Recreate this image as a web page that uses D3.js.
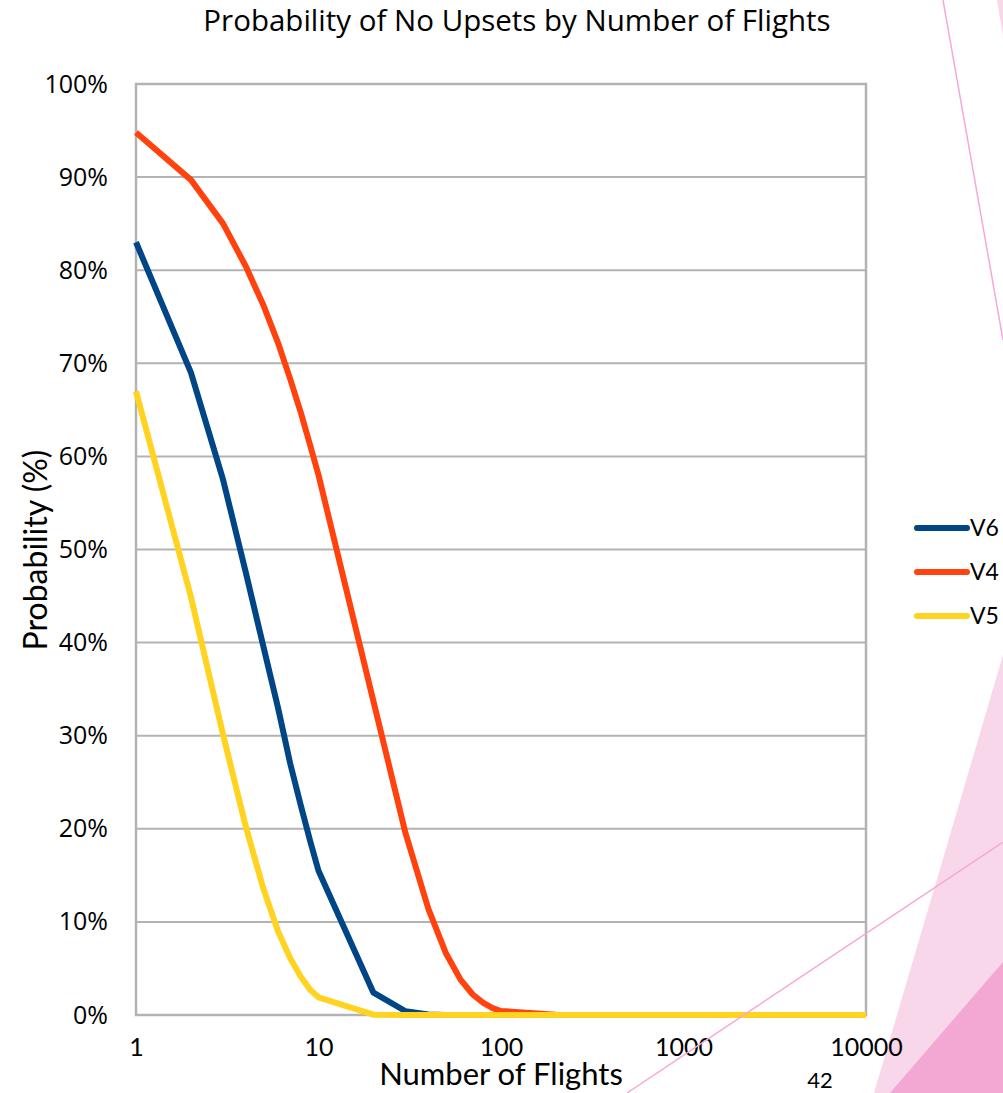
<!DOCTYPE html>
<html>
<head>
<meta charset="utf-8">
<script src="https://cdn.jsdelivr.net/npm/d3@7"></script>
<style>
  html, body { margin: 0; padding: 0; background: #ffffff; }
  svg { display: block; }
</style>
</head>
<body>
<svg id="chart" width="1003" height="1093"></svg>
<script>
// Number of flights (log axis)
const flights = [1, 2, 3, 4, 5, 6, 7, 8, 9, 10,
  20, 30, 40, 50, 60, 70, 80, 90, 100,
  200, 300, 400, 500, 600, 700, 800, 900, 1000,
  2000, 3000, 4000, 5000, 6000, 7000, 8000, 9000, 10000];

// Probability of no upsets for each version
const v6 = [0.83, 0.69, 0.575, 0.475, 0.395, 0.33, 0.27, 0.225, 0.187, 0.155,
  0.024, 0.004, 0.0006, 0.0001, 0, 0, 0, 0, 0,
  0, 0, 0, 0, 0, 0, 0, 0, 0,
  0, 0, 0, 0, 0, 0, 0, 0, 0];
const v4 = [0.948, 0.897, 0.85, 0.804, 0.762, 0.722, 0.683, 0.647, 0.612, 0.58,
  0.337, 0.195, 0.114, 0.066, 0.038, 0.022, 0.013, 0.0074, 0.0043,
  0.0002, 0, 0, 0, 0, 0, 0, 0, 0,
  0, 0, 0, 0, 0, 0, 0, 0, 0];
const v5 = [0.67, 0.449, 0.301, 0.202, 0.135, 0.09, 0.061, 0.041, 0.027, 0.019,
  0.0003, 0, 0, 0, 0, 0, 0, 0, 0,
  0, 0, 0, 0, 0, 0, 0, 0, 0,
  0, 0, 0, 0, 0, 0, 0, 0, 0];

const seriesNames = ["V6", "V4", "V5"];
const seriesColors = ["#004586", "#ff420e", "#ffd320"];
const xTicks = [1, 10, 100, 1000, 10000];
const yTicks = [0, 0.1, 0.2, 0.3, 0.4, 0.5, 0.6, 0.7, 0.8, 0.9, 1.0];

const series = [v6, v4, v5].map((vals, i) => ({
  name: seriesNames[i],
  color: seriesColors[i],
  points: flights.map((f, j) => ({ x: f, y: vals[j] }))
}));

const svg = d3.select("#chart");
const plot = { left: 136, right: 866, top: 84, bottom: 1015 };

const x = d3.scaleLog().domain([1, 10000]).range([plot.left, plot.right]);
const y = d3.scaleLinear().domain([0, 1]).range([plot.bottom, plot.top]);

// Slide decoration shapes behind the chart
const deco = svg.append("g");
deco.append("polygon")
  .attr("points", "1003,655 1003,1093 874,1093")
  .attr("fill", "#f8d7ea");
deco.append("polygon")
  .attr("points", "1003,962 1003,1093 890,1093")
  .attr("fill", "#f3a7d3");
deco.append("polygon")
  .attr("points", "997,0 1003,0 1003,36")
  .attr("fill", "#f8d7ea");

// Title
svg.append("text")
  .attr("x", 517).attr("y", 31)
  .attr("text-anchor", "middle")
  .attr("font-family", "Open Sans, sans-serif")
  .attr("font-size", 29.5)
  .attr("fill", "#000")
  .text("Probability of No Upsets by Number of Flights");

// Horizontal grid lines
svg.append("g")
  .selectAll("line")
  .data(yTicks)
  .join("line")
  .attr("x1", plot.left).attr("x2", plot.right)
  .attr("y1", d => y(d)).attr("y2", d => y(d))
  .attr("stroke", "#b3b3b3")
  .attr("stroke-width", 2);

// Plot frame
svg.append("rect")
  .attr("x", plot.left).attr("y", plot.top)
  .attr("width", plot.right - plot.left)
  .attr("height", plot.bottom - plot.top)
  .attr("fill", "none")
  .attr("stroke", "#b3b3b3")
  .attr("stroke-width", 2.5);

// Y axis tick labels
const yAxis = d3.axisLeft(y)
  .tickValues(yTicks)
  .tickFormat(d3.format(".0%"))
  .tickSize(0)
  .tickPadding(28);
const gy = svg.append("g")
  .attr("transform", `translate(${plot.left},0)`)
  .call(yAxis);
gy.select(".domain").remove();
gy.selectAll("text")
  .attr("font-family", "Open Sans, sans-serif")
  .attr("font-size", 25)
  .attr("fill", "#000");

// X axis tick labels
const xAxis = d3.axisBottom(x)
  .tickValues(xTicks)
  .tickFormat(d3.format("d"))
  .tickSize(0)
  .tickPadding(23);
const gx = svg.append("g")
  .attr("transform", `translate(0,${plot.bottom})`)
  .call(xAxis);
gx.select(".domain").remove();
gx.selectAll("text")
  .attr("font-family", "Lato, sans-serif")
  .attr("font-size", 25)
  .attr("fill", "#000");

// Axis titles
svg.append("text")
  .attr("x", 501).attr("y", 1085)
  .attr("text-anchor", "middle")
  .attr("font-family", "Lato, sans-serif")
  .attr("font-size", 31)
  .attr("fill", "#000")
  .text("Number of Flights");

svg.append("text")
  .attr("transform", "translate(47,550) rotate(-90)")
  .attr("text-anchor", "middle")
  .attr("font-family", "Lato, sans-serif")
  .attr("font-size", 32)
  .attr("fill", "#000")
  .text("Probability (%)");

// Series lines
const line = d3.line().x(d => x(d.x)).y(d => y(d.y));
svg.append("g")
  .selectAll("path")
  .data(series)
  .join("path")
  .attr("d", d => line(d.points))
  .attr("fill", "none")
  .attr("stroke", d => d.color)
  .attr("stroke-width", 6)
  .attr("stroke-linejoin", "round")
  .attr("stroke-linecap", "butt");

// Legend
const legend = svg.append("g");
const legendItems = legend.selectAll("g")
  .data(series)
  .join("g")
  .attr("transform", (d, i) => `translate(0,${528 + i * 44})`);
legendItems.append("line")
  .attr("x1", 917).attr("x2", 967)
  .attr("y1", 0).attr("y2", 0)
  .attr("stroke", d => d.color)
  .attr("stroke-width", 6)
  .attr("stroke-linecap", "round");
legendItems.append("text")
  .attr("x", 970).attr("y", 0)
  .attr("dy", "0.35em")
  .attr("font-family", "Lato, sans-serif")
  .attr("font-size", 23)
  .attr("fill", "#000")
  .text(d => d.name);

// Page number
svg.append("text")
  .attr("x", 820).attr("y", 1088)
  .attr("text-anchor", "middle")
  .attr("font-family", "Lato, sans-serif")
  .attr("font-size", 22)
  .attr("fill", "#000")
  .text("42");

// Thin decorative slide lines drawn over everything
const decoLines = svg.append("g")
  .attr("stroke", "#f7a8d6")
  .attr("stroke-width", 1.5);
decoLines.append("line")
  .attr("x1", 943).attr("y1", 0).attr("x2", 1003).attr("y2", 340);
decoLines.append("line")
  .attr("x1", 627).attr("y1", 1093).attr("x2", 1003).attr("y2", 842);
</script>
</body>
</html>
